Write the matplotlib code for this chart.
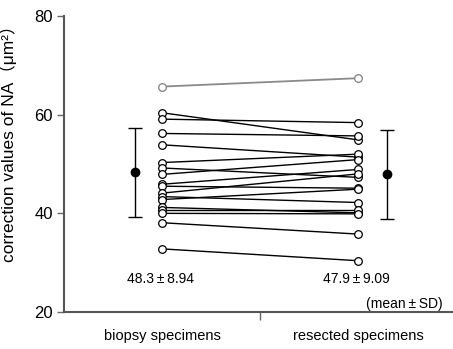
import matplotlib
matplotlib.use("Agg")
import matplotlib.pyplot as plt

plt.rcParams['font.family'] = ['Liberation Sans', 'Noto Sans CJK JP']

# paired values (um^2)
biopsy = [60.4, 59.1, 56.2, 53.9, 50.3, 49.2, 47.9, 45.9, 45.5, 44.1,
          43.4, 42.8, 41.2, 40.7, 40.0, 38.1, 32.8]
resected = [54.9, 58.4, 55.7, 51.4, 52.0, 47.3, 50.9, 48.9, 45.1, 48.0,
            42.2, 44.9, 40.1, 40.7, 39.9, 35.8, 30.4]
# the grey pair on top
grey_pair = [65.7, 67.4]

means = [48.3, 47.9]
sds = [8.94, 9.09]
groups = ["biopsy specimens", "resected specimens"]
mean_labels = ["48.3\u2009\u00b1\u20098.94", "47.9\u2009\u00b1\u20099.09"]

fig = plt.figure(figsize=(4.53, 3.49), dpi=100)
ax = fig.add_axes([0.1413, 0.106, 0.8587, 0.848])

x = [1, 2]
for b, r in zip(biopsy, resected):
    ax.plot(x, [b, r], '-o', color='black', lw=1.0, markersize=5.5,
            markerfacecolor='white', markeredgecolor='black', markeredgewidth=0.9)
ax.plot(x, grey_pair, '-o', color='#8a8a8a', lw=1.3, markersize=5.5,
        markerfacecolor='white', markeredgecolor='#8a8a8a', markeredgewidth=1.0)

# mean +- SD beside each column
ax.errorbar([0.862, 2.148], means, yerr=sds, fmt='o', color='black',
            markersize=6, capsize=5, elinewidth=1.0, capthick=1.0)

for xi, t in zip(x, mean_labels):
    ax.text(xi - 0.01, 26.7, t, ha='center', va='center', fontsize=10)
ax.text(2.43, 21.6, "(mean\u2009\u00b1\u2009SD)", ha='right', va='center', fontsize=10)

ax.set_xlim(0.5, 2.485)
ax.set_ylim(20, 80)
ax.set_yticks([20, 40, 60, 80])
ax.set_xticks([1, 2])
ax.set_xticklabels(groups, fontsize=10.5)
ax.tick_params(axis='x', length=0, pad=12)
ax.set_xticks([1.5], minor=True)
ax.tick_params(axis='x', which='minor', length=6, width=1, color='#666666')
ax.tick_params(axis='y', length=5, width=1, color='#666666', labelsize=12, pad=3)

ax.set_ylabel("correction values of NA\uff08\u03bcm\u00b2\uff09", fontsize=12.5)
ax.yaxis.set_label_coords(-0.12, 0.585)

for s in ['top', 'right']:
    ax.spines[s].set_visible(False)
for s in ['left', 'bottom']:
    ax.spines[s].set_color('#555555')
    ax.spines[s].set_linewidth(1.5)

fig.savefig("out.png", dpi=100)
